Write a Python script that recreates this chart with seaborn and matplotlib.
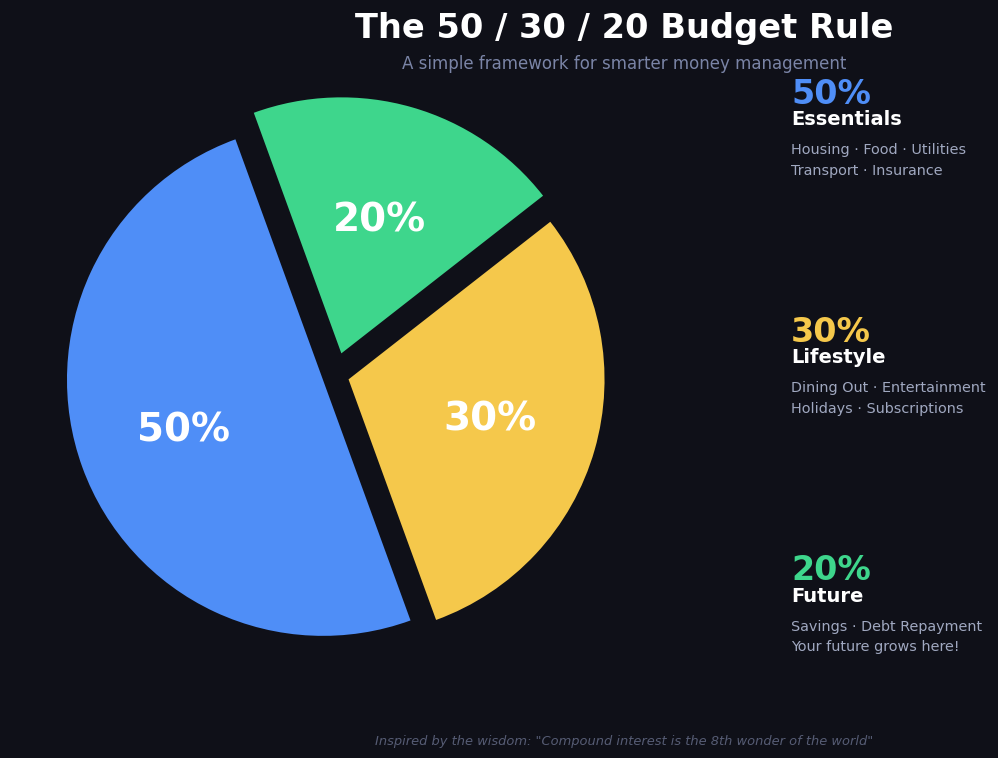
import numpy as np
import matplotlib
matplotlib.use("Agg")
import matplotlib.pyplot as plt
import seaborn as sns

# data
categories = ["Essentials", "Lifestyle", "Future"]
shares = [50, 30, 20]
descriptions = [
    ["Housing · Food · Utilities", "Transport · Insurance"],
    ["Dining Out · Entertainment", "Holidays · Subscriptions"],
    ["Savings · Debt Repayment", "Your future grows here!"],
]

# style
BG = "#0f1018"
colors = ["#4f8ef7", "#f5c84b", "#3ed68c"]
explode = (0.05, 0.055, 0.09)
label_dist = [0.58, 0.575, 0.54]

sns.set_theme(style="dark")
plt.rcParams["font.family"] = ["DejaVu Sans"]

W, H = 998, 758
fig = plt.figure(figsize=(W / 100, H / 100), dpi=100, facecolor=BG)

# pie axes (square, left side)
ax = fig.add_axes([15 / W, 62.5 / H, 640 / W, 640 / H])
ax.set_facecolor(BG)
wedges, texts, autotexts = ax.pie(
    shares,
    colors=colors,
    explode=explode,
    startangle=110,
    counterclock=True,
    autopct=lambda p: f"{p:.0f}%",
    pctdistance=0.58,
    textprops=dict(color="white", fontsize=28, fontweight="bold"),
    wedgeprops=dict(linewidth=0),
)
ax.set_xlim(-1.25, 1.25)
ax.set_ylim(-1.25, 1.25)
ax.set_aspect("equal")
ax.axis("off")

# move the % labels a bit per wedge
for w, t, d in zip(wedges, autotexts, label_dist):
    th = np.deg2rad((w.theta1 + w.theta2) / 2)
    cx, cy = w.center
    t.set_position((cx + d * w.r * np.cos(th), cy + d * w.r * np.sin(th)))

# titles
fig.text(0.625, 1 - 38 / H, "The 50 / 30 / 20 Budget Rule", ha="center", va="baseline",
         color="white", fontsize=24.2, fontweight="bold")
fig.text(0.625, 1 - 69 / H, "A simple framework for smarter money management", ha="center",
         va="baseline", color="#7a84a6", fontsize=12)

# right-hand legend blocks
x0 = 791 / W
for i, (name, share, lines, col) in enumerate(zip(categories, shares, descriptions, colors)):
    off = i * 238.3
    fig.text(x0, 1 - (103.5 + off) / H, f"{share}%", color=col, fontsize=24,
             fontweight="bold", va="baseline")
    fig.text(x0, 1 - (125 + off) / H, name, color="white", fontsize=14,
             fontweight="bold", va="baseline")
    for j, line in enumerate(lines):
        fig.text(x0, 1 - (154 + off + j * 20.7) / H, line, color="#a0a8c0",
                 fontsize=10.4, va="baseline")

# footer
fig.text(0.625, 1 - 745 / H,
         'Inspired by the wisdom: "Compound interest is the 8th wonder of the world"',
         ha="center", va="baseline", color="#565c74", fontsize=9.4, style="italic")

fig.savefig("out.png", dpi=100, facecolor=BG)
